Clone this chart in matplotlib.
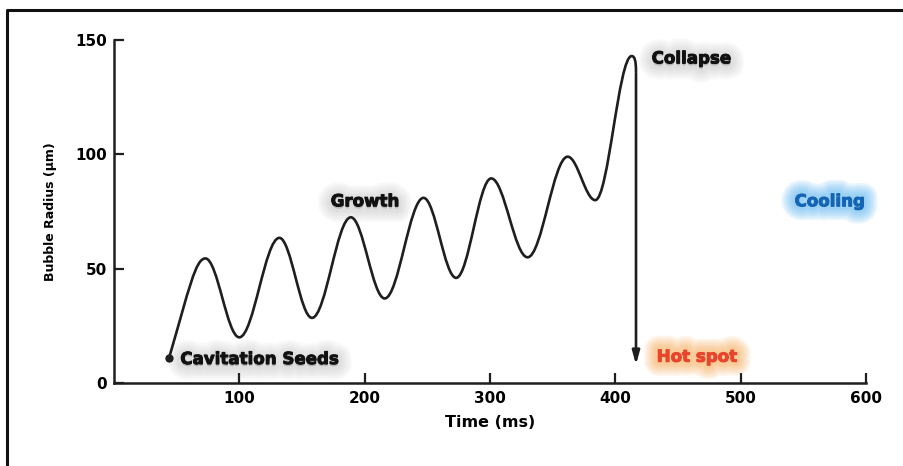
import matplotlib
matplotlib.use("Agg")
import matplotlib.pyplot as plt
import matplotlib.patheffects as pe
from matplotlib.path import Path
from matplotlib.patches import PathPatch
from matplotlib.lines import Line2D

# bubble radius over time: seed point, then alternating peaks / troughs
seed_t, seed_r = 44, 11
extrema_t = [73, 100, 132, 158, 189, 216, 247, 273, 301, 330, 362, 384, 413]
extrema_r = [54.5, 20, 63.5, 28.5, 72.5, 37, 81, 46, 89.5, 55, 99, 80, 143]
collapse_t, collapse_end_r = 416.5, 8

x_ticks = [100, 200, 300, 400, 500, 600]
y_ticks = [0, 50, 100, 150]

LINE = "#1e1e1e"
BOLD = dict(fontweight="bold", family="DejaVu Sans")


def glow(color, text_color, alpha=0.03, widths=(20, 17, 14, 11, 8, 5), offset=(0, -1.5)):
    effects = [pe.Stroke(linewidth=w, foreground=color, alpha=alpha, offset=offset)
               for w in widths]
    # thin stroke in the text colour to make the glyphs heavier
    return effects + [pe.Stroke(linewidth=0.7, foreground=text_color), pe.Normal()]


fig = plt.figure(figsize=(9.04, 4.66), dpi=100)
ax = fig.add_axes([0.126, 0.178, 0.832, 0.736])

# curve as cubic bezier segments with flat tangents at each extremum
verts = [(seed_t, seed_r)]
codes = [Path.MOVETO]
t1, r1 = extrema_t[0], extrema_r[0]
verts += [(seed_t + 16, seed_r + 30), (t1 - 8, r1), (t1, r1)]
codes += [Path.CURVE4] * 3
k = 0.36
for i in range(1, len(extrema_t)):
    t0, r0 = extrema_t[i - 1], extrema_r[i - 1]
    t1, r1 = extrema_t[i], extrema_r[i]
    dt = t1 - t0
    verts += [(t0 + k * dt, r0), (t1 - k * dt, r1), (t1, r1)]
    codes += [Path.CURVE4] * 3
# round over the last peak into the collapse
pk_t, pk_r = extrema_t[-1], extrema_r[-1]
verts += [(pk_t + 2.5, pk_r), (collapse_t, pk_r - 2), (collapse_t, pk_r - 7)]
codes += [Path.CURVE4] * 3
ax.add_patch(PathPatch(Path(verts, codes), fill=False, edgecolor=LINE,
                       lw=1.9, capstyle="round", joinstyle="round"))

ax.annotate("", xy=(collapse_t, collapse_end_r), xytext=(collapse_t, pk_r - 7.5),
            arrowprops=dict(arrowstyle="-|>,head_length=0.8,head_width=0.22",
                            lw=1.9, color=LINE, shrinkA=0, shrinkB=0))
ax.plot([seed_t], [seed_r], "o", color=LINE, ms=5)

# stage labels
ax.text(seed_t + 9, seed_r - 0.5, "Cavitation Seeds", fontsize=12, color="#111",
        va="center", path_effects=glow("#555555", "#111"), **BOLD)
ax.text(173, 79.5, "Growth", fontsize=12, color="#111", va="center",
        path_effects=glow("#555555", "#111"), **BOLD)
ax.text(429, 142, "Collapse", fontsize=12, color="#111", va="center",
        path_effects=glow("#555555", "#111"), **BOLD)
ax.text(433, 11.5, "Hot spot", fontsize=12, color="#e8452c", va="center",
        path_effects=glow("#f79a30", "#e8452c", 0.1, offset=(0, 0)), **BOLD)
ax.text(543, 79.5, "Cooling", fontsize=12, color="#1565b5", va="center",
        path_effects=glow("#3fa9f0", "#1565b5", 0.11, offset=(0, 0)), **BOLD)

ax.set_xlim(0, 600)
ax.set_ylim(0, 150)
ax.set_xticks(x_ticks)
ax.set_yticks(y_ticks)
ax.set_xticklabels([str(v) for v in x_ticks], **BOLD, fontsize=11)
ax.set_yticklabels([str(v) for v in y_ticks], **BOLD, fontsize=11)
ax.tick_params(direction="in", length=7, width=1.6, color=LINE, pad=6)
ax.tick_params(axis="y", pad=5)
for side in ("top", "right"):
    ax.spines[side].set_visible(False)
for side in ("left", "bottom"):
    ax.spines[side].set_linewidth(1.8)
    ax.spines[side].set_color(LINE)

ax.set_xlabel("Time (ms)", fontsize=11.5, labelpad=6, **BOLD)
ax.set_ylabel("Bubble Radius (μm)", fontsize=9, labelpad=13, **BOLD)

# outer frame (top and left edges)
fx, fy = 7 / 904, 1 - 10 / 466
fig.add_artist(Line2D([fx, fx, 1], [0, fy, fy], transform=fig.transFigure,
                      color="#111", lw=2.2))

fig.savefig("out.png", dpi=100)
